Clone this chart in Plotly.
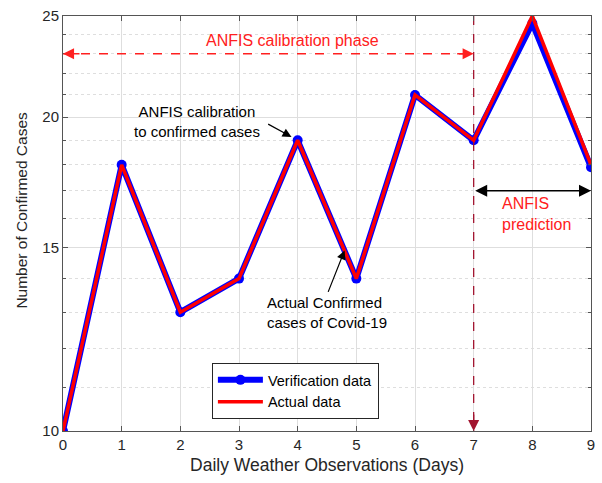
import math
import plotly.graph_objects as go

# Daily observations and confirmed case counts
days = [0, 1, 2, 3, 4, 5, 6, 7, 8, 9]
actual_cases = [10, 18, 13, 14, 19, 14, 21, 19, 25, 18]
verification_cases = [10, 18, 13, 14, 19, 14, 21, 19, 24.6, 17.9]

y_major_ticks = [10, 15, 20, 25]
y_minor_ticks = [11, 12, 13, 14, 16, 17, 18, 19, 21, 22, 23, 24]
x_ticks = list(range(10))

calib_start, calib_end, calib_level = 0, 7, 23
pred_start, pred_end, pred_level = 7, 9, 17

FONT = "Liberation Sans, Arial, sans-serif"
INK = "#262626"
GRID = "#dedede"
MAROON = "#a2142f"

fig = go.Figure()

fig.add_trace(go.Scatter(
    x=days, y=verification_cases, mode="lines+markers", name="Verification data",
    line=dict(color="#0000ff", width=6), marker=dict(color="#0000ff", size=10),
))
fig.add_trace(go.Scatter(
    x=days, y=actual_cases, mode="lines", name="Actual data",
    line=dict(color="#ff0000", width=3.5),
))

# dashed calibration span and phase boundary
fig.add_trace(go.Scatter(
    x=[calib_start, calib_end], y=[calib_level, calib_level], mode="lines",
    line=dict(color="#ff2020", width=1.3, dash="dash"), showlegend=False, hoverinfo="skip",
))
fig.add_trace(go.Scatter(
    x=[calib_end, calib_end], y=[25, 10], mode="lines",
    line=dict(color=MAROON, width=1.3, dash="dash"), showlegend=False, hoverinfo="skip",
))

ly = math.log10
ann = []
# arrowheads on the calibration span
ann.append(dict(x=calib_start, y=ly(calib_level), ax=18, ay=0, showarrow=True, text="",
                arrowhead=2, arrowsize=1.7, arrowwidth=1.3, arrowcolor="#ff2020"))
ann.append(dict(x=calib_end, y=ly(calib_level), ax=-18, ay=0, showarrow=True, text="",
                arrowhead=2, arrowsize=1.7, arrowwidth=1.3, arrowcolor="#ff2020"))
# arrowhead at the foot of the boundary line
ann.append(dict(x=calib_end, y=ly(10), ax=0, ay=-18, showarrow=True, text="",
                arrowhead=2, arrowsize=1.7, arrowwidth=1.3, arrowcolor=MAROON))
# prediction span
ann.append(dict(x=pred_end, y=ly(pred_level), ax=pred_start, ay=ly(pred_level),
                axref="x", ayref="y", showarrow=True, text="", arrowside="end+start",
                arrowhead=2, arrowsize=1.6, arrowwidth=1.5, arrowcolor="black"))
# pointer arrows
ann.append(dict(x=4, y=ly(19), ax=-31, ay=-17, showarrow=True, text="", standoff=7,
                arrowhead=2, arrowsize=1.5, arrowwidth=1.2, arrowcolor="black"))
ann.append(dict(x=4.8, y=ly(14.9), ax=-17, ay=43, showarrow=True, text="", standoff=0,
                arrowhead=2, arrowsize=1.5, arrowwidth=1.2, arrowcolor="black"))

# text labels
ann.append(dict(x=3.92, y=ly(23.7), text="ANFIS calibration phase", showarrow=False,
                font=dict(family=FONT, size=16, color="#ff2020")))
ann.append(dict(x=2.29, y=ly(19.8), text="ANFIS calibration<br>to confirmed cases",
                showarrow=False, align="center",
                font=dict(family=FONT, size=15, color="black")))
ann.append(dict(x=3.45, y=ly(13.0), xanchor="left", text="Actual Confirmed<br>cases of Covid-19",
                showarrow=False, align="left",
                font=dict(family=FONT, size=15, color="black")))
ann.append(dict(x=7.45, y=ly(16.13), xanchor="left", text="ANFIS<br>prediction",
                showarrow=False, align="left",
                font=dict(family=FONT, size=16, color="#ff2020")))
# y-axis title
ann.append(dict(xref="paper", yref="paper", x=-0.078, y=0.533, text="Number of Confirmed Cases",
                textangle=-90, showarrow=False, xanchor="center", yanchor="middle",
                font=dict(family=FONT, size=15.5, color=INK)))

fig.update_layout(
    width=602, height=483,
    margin=dict(l=63, r=11, t=16, b=52),
    paper_bgcolor="white", plot_bgcolor="white",
    font=dict(family=FONT, color=INK),
    annotations=ann,
    legend=dict(x=0.282, y=0.164, xanchor="left", yanchor="top",
                bgcolor="white", bordercolor=INK, borderwidth=1,
                font=dict(family=FONT, size=14.5, color="black"),
                itemwidth=45, tracegroupgap=0),
    showlegend=True,
)

fig.update_xaxes(
    range=[0, 9], tickvals=x_ticks, ticktext=[str(v) for v in x_ticks],
    automargin=False,
    showline=True, linecolor="#555555", linewidth=1, mirror="ticks",
    ticks="inside", ticklen=5, tickcolor="#555555",
    showgrid=True, gridcolor=GRID, gridwidth=1, zeroline=False,
    tickfont=dict(family=FONT, size=15, color=INK),
    title=dict(text="Daily Weather Observations (Days)", standoff=6,
               font=dict(family=FONT, size=17.5, color=INK)),
)
fig.update_yaxes(
    type="log", range=[1, ly(25)], tickvals=y_major_ticks,
    ticktext=[str(v) for v in y_major_ticks],
    automargin=False,
    showline=True, linecolor="#555555", linewidth=1, mirror="ticks",
    ticks="inside", ticklen=5, tickcolor="#555555",
    showgrid=True, gridcolor=GRID, gridwidth=1, zeroline=False,
    minor=dict(tickvals=y_minor_ticks, ticks="inside", ticklen=3, tickcolor="#555555",
               showgrid=True, gridcolor=GRID, griddash="dot", gridwidth=1),
    tickfont=dict(family=FONT, size=15, color=INK),
)

fig.write_html("out.html")
